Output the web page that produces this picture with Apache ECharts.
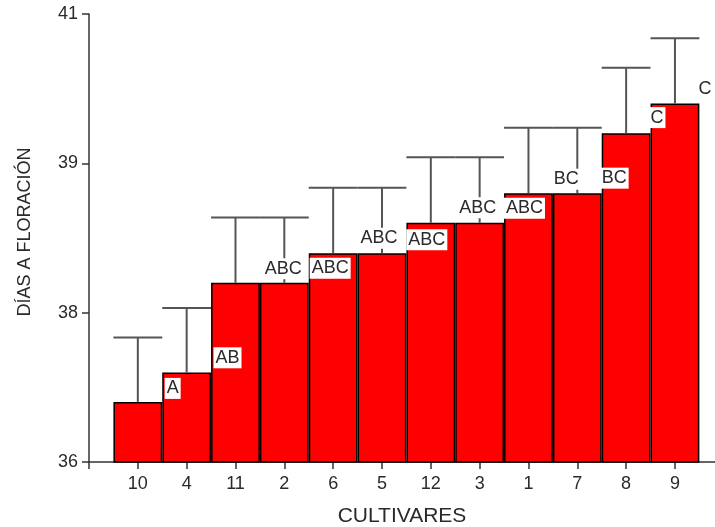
<!DOCTYPE html>
<html>
<head>
<meta charset="utf-8">
<script src="https://cdn.jsdelivr.net/npm/echarts@6/dist/echarts.min.js"></script>
<style>html,body{margin:0;padding:0;background:#fff}#c{width:715px;height:527px}</style>
</head>
<body>
<div id="c"></div>
<script>
// ---- data ----
const cultivars = ['10', '4', '11', '2', '6', '5', '12', '3', '1', '7', '8', '9'];
const days = [36.67, 37.0, 38.0, 38.0, 38.33, 38.33, 38.67, 38.67, 39.0, 39.0, 39.67, 40.0];
const errors = [0.72, 0.72, 0.73, 0.73, 0.73, 0.73, 0.73, 0.73, 0.73, 0.73, 0.73, 0.73];
const letters = ['', 'A', 'AB', 'ABC', 'ABC', 'ABC', 'ABC', 'ABC', 'ABC', 'BC', 'BC', 'C'];
const extraLetter = 'C';
const yTicks = [36, 38, 39, 41];

// ---- styling (pixel offsets of the letter boxes from each bar top-centre) ----
const labelOffsets = [[0,0],[-14,16],[-8,75],[-1,-14],[-3,15],[-3,-15],[-4,17],[-2,-15],[-4,15],[-11,-14],[-12,45],[-18,14]];
const extraOffset = [30, -15];

const yMin = 36, yMax = 41;
const xMax = 12.82;
const font = 'Liberation Sans, Arial, sans-serif';
const txt = '#2a2a2a';

const chart = echarts.init(document.getElementById('c'));

const barData = days.map((v, i) => [i + 1, v]);
const errData = days.map((v, i) => [i + 1, v, v + errors[i]]);
const labelData = [];
days.forEach((v, i) => {
  if (letters[i]) labelData.push({value: [i + 1, v], name: letters[i], label: {offset: labelOffsets[i]}});
});
labelData.push({value: [12, days[11]], name: extraLetter, label: {offset: extraOffset, backgroundColor: 'transparent'}});

chart.setOption({
  animation: false,
  backgroundColor: '#fff',
  grid: {left: 89, right: 0, top: 14, bottom: 65, containLabel: false, outerBoundsMode: 'none'},
  xAxis: {
    type: 'value', min: 0, max: xMax, interval: 1,
    name: 'CULTIVARES', nameLocation: 'middle', nameGap: 44,
    nameTextStyle: {fontFamily: font, fontSize: 21, color: txt},
    axisLine: {show: true, lineStyle: {color: '#333', width: 1.5}},
    axisTick: {show: true, length: 7, lineStyle: {color: '#333', width: 1.5}},
    axisLabel: {
      margin: 13, fontFamily: font, fontSize: 18, color: txt,
      showMaxLabel: false,
      formatter: v => {
        const r = Math.round(v);
        return (Math.abs(v - r) < 1e-6 && r >= 1 && r <= cultivars.length) ? cultivars[r - 1] : '';
      }
    },
    splitLine: {show: false}
  },
  yAxis: {
    type: 'value', min: yMin, max: yMax, interval: (yMax - yMin) / 3,
    name: 'DÍAS A FLORACIÓN', nameLocation: 'middle', nameGap: 55,
    nameTextStyle: {fontFamily: font, fontSize: 18, color: txt, padding: [0, 0, 0, 12]},
    axisLine: {show: true, lineStyle: {color: '#333', width: 1.5}},
    axisTick: {show: true, length: 7, lineStyle: {color: '#333', width: 1.5}},
    axisLabel: {
      margin: 11, fontFamily: font, fontSize: 18, color: txt,
      formatter: v => {
        let best = yTicks[0];
        yTicks.forEach(t => { if (Math.abs(t - v) < Math.abs(best - v)) best = t; });
        return String(best);
      }
    },
    splitLine: {show: false}
  },
  series: [
    {
      type: 'bar', data: barData, barWidth: 48.83,
      itemStyle: {color: '#ff0000', borderColor: '#000', borderWidth: 1.5},
      z: 2
    },
    {
      type: 'custom', data: errData, z: 3,
      renderItem: (params, api) => {
        const x = api.value(0);
        const p0 = api.coord([x, api.value(1)]);
        const p1 = api.coord([x, api.value(2)]);
        const half = api.size([1, 0])[0] / 2;
        const st = {stroke: '#555', lineWidth: 2};
        return {type: 'group', children: [
          {type: 'line', shape: {x1: p0[0], y1: p0[1], x2: p1[0], y2: p1[1]}, style: st},
          {type: 'line', shape: {x1: p1[0] - half, y1: p1[1], x2: p1[0] + half, y2: p1[1]}, style: st}
        ]};
      }
    },
    {
      type: 'scatter', data: labelData, symbolSize: 0, z: 5,
      itemStyle: {opacity: 1},
      label: {
        show: true, position: 'inside', formatter: p => p.name,
        fontFamily: font, fontSize: 18, color: txt, opacity: 1,
        backgroundColor: '#ffffff', padding: [2, 2, 1, 2]
      }
    }
  ]
});
</script>
</body>
</html>
